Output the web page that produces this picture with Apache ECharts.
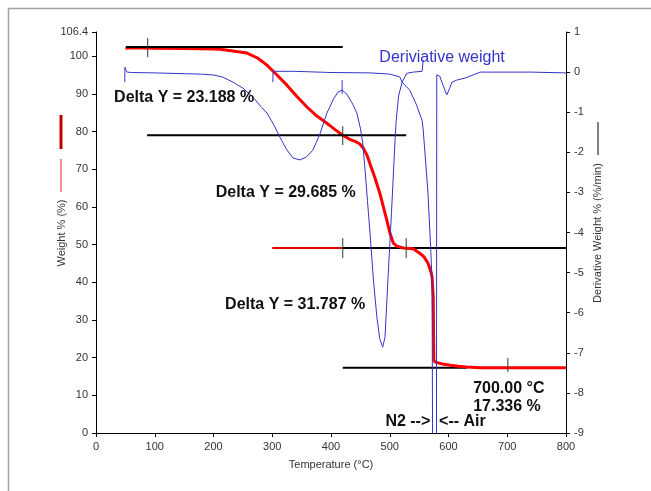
<!DOCTYPE html>
<html>
<head>
<meta charset="utf-8">
<script src="https://cdn.jsdelivr.net/npm/echarts/dist/echarts.min.js"></script>
<style>
  html, body { margin: 0; padding: 0; background: #fff; }
  #main { width: 651px; height: 491px; }
</style>
</head>
<body>
<div id="main"></div>
<script>
// weight curve: [temperature °C, weight %]
const weight = [
  [50, 102.1], [60, 102.2], [100, 102.1], [150, 102.0], [200, 101.9], [211, 101.8],
  [230, 101.4], [257, 100.8], [275, 99.5], [291, 97.6], [308, 95.0], [325, 92.3],
  [342, 89.3], [359, 86.5], [376, 84.1], [393, 82.2], [407, 80.5], [420, 79.0],
  [431, 78.0], [441, 77.4], [449, 76.7], [455, 75.6], [461, 73.8], [466, 71.6],
  [475, 67.6], [483, 63.7], [490, 59.5], [495, 56.5], [500, 53.2], [506, 50.4],
  [512, 49.6], [523, 49.1], [540, 48.9], [551, 47.7], [558, 46.8], [565, 45.1],
  [570, 42.8], [572, 41.4], [574, 36.1], [575, 19.4], [577, 18.8], [580, 18.6],
  [590, 18.3], [603, 18.0], [617, 17.7], [631, 17.5], [654, 17.34], [800, 17.34]
]

// derivative weight (%/min), first run
const derivA = [
  [49, -0.25], [49.3, 0.12], [51, 0.05], [53, 0.0], [60, -0.01], [100, -0.02],
  [150, -0.04], [178, -0.05], [199, -0.07], [215, -0.12], [233, -0.25], [250, -0.4],
  [267, -0.62], [280, -0.85], [291, -1.02], [302, -1.3], [313, -1.62], [324, -1.92],
  [335, -2.14], [347, -2.19], [358, -2.12], [369, -1.95], [381, -1.55], [393, -1.02],
  [405, -0.65], [412, -0.5], [419, -0.45], [427, -0.55], [437, -0.8], [444, -1.02],
  [450, -1.4], [454, -1.77], [458, -2.44], [462, -3.2], [466, -3.94], [472, -5.14],
  [478, -6.1], [483, -6.65], [488, -6.86], [492, -6.6], [497, -5.14], [503, -3.5],
  [509, -1.7], [511, -1.2], [515, -0.6], [521, -0.25], [529, -0.03], [540, 0.0],
  [555, 0.02], [557, 0.3]
]

// derivative weight (%/min), second run through the gas switch
const derivB = [
  [301, -0.25], [301.5, 0.02], [337, 0.02], [340, 0.0], [400, -0.01], [467, -0.02],
  [500, -0.05], [517, -0.12], [521, -0.25], [534, -0.45], [545, -0.8], [555, -1.2],
  [557, -1.45], [565, -3.0], [570, -4.5], [572, -5.2], [573, -9.5], [579.5, -9.5],
  [580, -0.07], [585, -0.1], [590, -0.3], [597, -0.57], [602, -0.4], [606, -0.25],
  [614, -0.2], [628, -0.15], [642, -0.07], [654, 0.0], [700, 0.0], [740, 0.0],
  [741, -0.02], [800, -0.02]
]

// step baselines (weight %)
const step1 = [[51, 102.4], [420, 102.4]]
const step2 = [[87, 79.0], [528, 79.0]]
const step3Red = [[300, 49.1], [420, 49.1]]
const step3 = [[420, 49.1], [800, 49.1]]
const step4 = [[420, 17.3], [632, 17.3]]

// cursor ticks
const cursorTicks = [
  [[88, 104.8], [88, 99.7]],
  [[420, 81.4], [420, 76.4]],
  [[420, 51.7], [420, 46.4]],
  [[528, 51.7], [528, 46.4]],
  [[701, 19.9], [701, 16.2]]
]

const xTicks = [0, 800, 100]
const leftTicks = [0, 106.4, 10]
const rightTicks = [-9, 1, 1]

// annotations: [text, temperature, weight, align]
const notes = [
  ['Delta Y = 23.188 %', 150, 88.9, 'center'],
  ['Delta Y = 29.685 %', 323, 63.7, 'center'],
  ['Delta Y = 31.787 %', 339, 34.0, 'center'],
  ['700.00 °C', 642, 11.9, 'left'],
  ['17.336 %', 642, 6.9, 'left'],
  ['N2 -->', 569, 2.9, 'right'],
  ['<-- Air', 584, 2.9, 'left']
]

const FONT = '"Liberation Sans", Arial, sans-serif'
const BLUE = '#3434c8'

const chart = echarts.init(document.getElementById('main'))

function lineSeries (data, color, width, yIdx, z) {
  return {
    type: 'line',
    data: data,
    yAxisIndex: yIdx,
    showSymbol: false,
    symbol: 'none',
    silent: true,
    animation: false,
    z: z,
    lineStyle: { color: color, width: width }
  }
}

const series = [
  lineSeries(step3Red, '#e00000', 2, 0, 2),
  lineSeries(step1, '#000', 2, 0, 4),
  lineSeries(step2, '#000', 2, 0, 4),
  lineSeries(step3, '#000', 2, 0, 2),
  lineSeries(step4, '#000', 2, 0, 2),
  lineSeries(weight, '#ff0000', 3, 0, 3),
  lineSeries(derivA, BLUE, 1, 1, 5),
  lineSeries(derivB, BLUE, 1, 1, 5),
  lineSeries([[419, -0.2], [419, -0.55]], BLUE, 1, 1, 5)
]
cursorTicks.forEach(t => series.push(lineSeries(t, '#333', 1, 0, 6)))

const labelStyle = { color: '#333', fontSize: 11, fontFamily: FONT }

chart.setOption({
  animation: false,
  grid: { left: 96, right: 85, top: 32, bottom: 58 },
  xAxis: {
    type: 'value',
    min: xTicks[0], max: xTicks[1], interval: xTicks[2],
    name: 'Temperature (°C)',
    nameLocation: 'middle',
    nameGap: 26,
    nameTextStyle: labelStyle,
    splitLine: { show: false },
    axisLine: { lineStyle: { color: '#000', width: 1 } },
    axisTick: { length: 4, lineStyle: { color: '#000' } },
    axisLabel: Object.assign({ margin: 8 }, labelStyle)
  },
  yAxis: [
    {
      type: 'value',
      min: leftTicks[0], max: leftTicks[1], interval: leftTicks[2],
      splitLine: { show: false },
      axisLine: { show: true, lineStyle: { color: '#000', width: 1 } },
      axisTick: { show: true, length: 4, lineStyle: { color: '#000' } },
      axisLabel: Object.assign({ margin: 8, showMaxLabel: true }, labelStyle)
    },
    {
      type: 'value',
      position: 'right',
      min: rightTicks[0], max: rightTicks[1], interval: rightTicks[2],
      splitLine: { show: false },
      axisLine: { show: true, lineStyle: { color: '#000', width: 1 } },
      axisTick: { show: true, length: 4, lineStyle: { color: '#000' } },
      axisLabel: Object.assign({ margin: 8 }, labelStyle)
    }
  ],
  series: series
})

// texts placed from data coordinates
const graphics = notes.map(n => {
  const p = chart.convertToPixel({ xAxisIndex: 0, yAxisIndex: 0 }, [n[1], n[2]])
  return {
    type: 'text', x: p[0], y: p[1], z: 20, silent: true,
    style: {
      text: n[0], fill: '#111', align: n[3], verticalAlign: 'middle',
      font: 'bold 16px ' + FONT
    }
  }
})
const dw = chart.convertToPixel({ xAxisIndex: 0, yAxisIndex: 0 }, [589, 99.5])
graphics.push({
  type: 'text', x: dw[0], y: dw[1], z: 20, silent: true,
  style: { text: 'Deriviative weight', fill: BLUE, align: 'center', verticalAlign: 'middle', font: '16px ' + FONT }
})

// axis titles with their series keys, outer frame
graphics.push(
  { type: 'text', x: 62, y: 233, rotation: Math.PI / 2, silent: true,
    style: { text: 'Weight % (%)', fill: '#333', align: 'center', verticalAlign: 'middle', font: '11px ' + FONT } },
  { type: 'line', silent: true, shape: { x1: 61, y1: 115, x2: 61, y2: 149 }, style: { stroke: '#c00000', lineWidth: 3 } },
  { type: 'line', silent: true, shape: { x1: 61, y1: 159, x2: 61, y2: 192 }, style: { stroke: '#e02020', lineWidth: 1 } },
  { type: 'text', x: 598, y: 233, rotation: Math.PI / 2, silent: true,
    style: { text: 'Derivative Weight % (%/min)', fill: '#333', align: 'center', verticalAlign: 'middle', font: '11px ' + FONT } },
  { type: 'line', silent: true, shape: { x1: 598, y1: 122, x2: 598, y2: 155 }, style: { stroke: '#000', lineWidth: 1 } },
  { type: 'polyline', silent: true, shape: { points: [[8.5, 491], [8.5, 8.5], [651, 8.5]] }, style: { stroke: '#a0a0a0', lineWidth: 1.5, fill: null } }
)

chart.setOption({ graphic: graphics })
</script>
</body>
</html>
